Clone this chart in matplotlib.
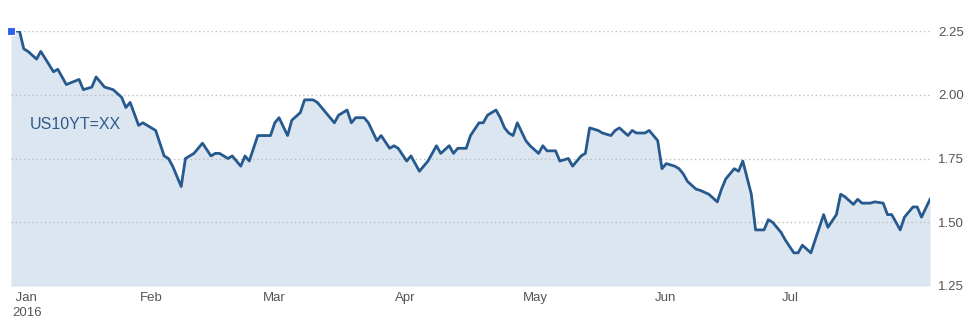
import matplotlib
matplotlib.use("Agg")
import matplotlib.pyplot as plt
import matplotlib.transforms as mtransforms
import numpy as np
import pandas as pd

plt.rcParams['font.family'] = ['Liberation Sans', 'DejaVu Sans']

# ---- data ----
start_date = "2016-01-04"
day_offsets = [
    -2, 0, 1, 2, 4, 5, 8, 9, 11, 14, 15, 17, 18, 20, 22, 24, 25,
    26, 28, 29, 30, 32, 34, 35, 36, 38, 39, 41, 42, 43, 45, 46, 47, 49, 50, 52, 53,
    54, 56, 57, 59, 60, 61, 63, 64, 66, 67, 69, 70, 71, 72, 74, 75, 77, 78, 79,
    81, 82, 84, 85, 87, 88, 89, 91, 92, 94, 95, 96, 98, 99, 101, 102, 103, 105, 106,
    108, 109, 110, 112, 113, 114, 115, 116, 117, 119, 120, 122, 123, 124, 126, 127,
    129, 130, 132, 133, 134,
    136, 137, 139, 140, 141, 143, 144, 145, 147, 148, 150, 151, 152, 154, 155, 156,
    157, 159, 160,
    162, 164, 165, 166, 168, 169, 170, 172, 173, 175, 176, 177, 179, 180, 182, 183,
    184, 186,
    187, 189, 190, 192, 193, 194, 196, 197, 198, 200, 201, 203, 204, 205, 207, 208,
    210, 211, 212, 214,
]
yields = [
    2.25, 2.25, 2.18, 2.17, 2.14, 2.17, 2.09, 2.10, 2.04, 2.06, 2.02, 2.03, 2.07, 2.03, 2.02, 1.99, 1.95,
    1.97, 1.88, 1.89, 1.88, 1.86, 1.76, 1.75, 1.72, 1.64, 1.75, 1.77, 1.79, 1.81, 1.76, 1.77, 1.77, 1.75, 1.76, 1.72, 1.76,
    1.74, 1.84, 1.84, 1.84, 1.89, 1.91, 1.84, 1.90, 1.93, 1.98, 1.98, 1.97, 1.95, 1.93, 1.89, 1.92, 1.94, 1.89, 1.91,
    1.91, 1.89, 1.82, 1.84, 1.79, 1.80, 1.79, 1.74, 1.76, 1.70, 1.72, 1.74, 1.80, 1.77, 1.80, 1.77, 1.79, 1.79, 1.84,
    1.89, 1.89, 1.92, 1.94, 1.91, 1.87, 1.85, 1.84, 1.89, 1.82, 1.80, 1.77, 1.80, 1.78, 1.78, 1.74,
    1.75, 1.72, 1.76, 1.77, 1.87,
    1.86, 1.85, 1.84, 1.86, 1.87, 1.84, 1.86, 1.85, 1.85, 1.86, 1.82, 1.71, 1.73, 1.72, 1.71, 1.69,
    1.66, 1.63, 1.625,
    1.61, 1.58, 1.63, 1.67, 1.71, 1.70, 1.74, 1.61, 1.47, 1.47, 1.51, 1.50, 1.46, 1.43, 1.38, 1.38,
    1.41, 1.38,
    1.43, 1.53, 1.48, 1.53, 1.61, 1.60, 1.57, 1.59, 1.575, 1.575, 1.58, 1.575, 1.53, 1.53, 1.47, 1.52,
    1.56, 1.56, 1.52, 1.59,
]
series_label = "US10YT=XX"
y_ticks = [1.25, 1.50, 1.75, 2.00, 2.25]
month_ticks = ["2016-02-01", "2016-03-01", "2016-04-01", "2016-05-01", "2016-06-01", "2016-07-01"]
month_labels = ["Feb", "Mar", "Apr", "May", "Jun", "Jul"]
first_label = " Jan\n2016"

dates = pd.Timestamp(start_date) + pd.to_timedelta(day_offsets, unit="D")

# ---- styling ----
line_color = "#265a8e"
fill_color = "#dce6f0"
text_gray = "#555555"
grid_gray = "#bdbdbd"

fig = plt.figure(figsize=(9.75, 3.31), dpi=100)
ax = fig.add_axes([11 / 975, 1 - 286 / 331, (930 - 11) / 975, (286 - 31) / 331])

ax.fill_between(dates, yields, 1.25, color=fill_color, linewidth=0, zorder=1)
ax.plot(dates, yields, color=line_color, linewidth=2.0, solid_joinstyle="round", zorder=3)
ax.plot(dates[:1], [yields[0]], marker="s", markersize=6, color="#2f5ff2",
        markeredgecolor="white", markeredgewidth=0.8, linestyle="none",
        zorder=4, clip_on=False)

ax.set_xlim(dates[0], dates[-1])
ax.set_ylim(1.25, 2.25)

for v in y_ticks:
    ax.axhline(v, color=grid_gray, linewidth=1.0, linestyle=(0, (1, 2)), zorder=2)

for s in ax.spines.values():
    s.set_visible(False)

ax.yaxis.tick_right()
ax.set_yticks(y_ticks)
ax.set_yticklabels([f"{v:.2f}" for v in y_ticks], fontsize=9.5, color=text_gray)
ax.tick_params(axis="y", length=0, pad=6)

xt = [dates[0]] + [pd.Timestamp(d) for d in month_ticks]
ax.set_xticks(xt)
ax.set_xticklabels([first_label] + month_labels, fontsize=9.5, color=text_gray,
                   ha="left", linespacing=1.35)
ax.tick_params(axis="x", length=0, pad=4)
offset = mtransforms.ScaledTranslation(1 / 100, 0, fig.dpi_scale_trans)
for lbl in ax.get_xticklabels():
    lbl.set_transform(lbl.get_transform() + offset)

ax.text(19 / 919, 0.635, series_label, transform=ax.transAxes,
        fontsize=11.5, color="#2f5a8a", ha="left", va="center")

fig.savefig("out.png", dpi=100)
